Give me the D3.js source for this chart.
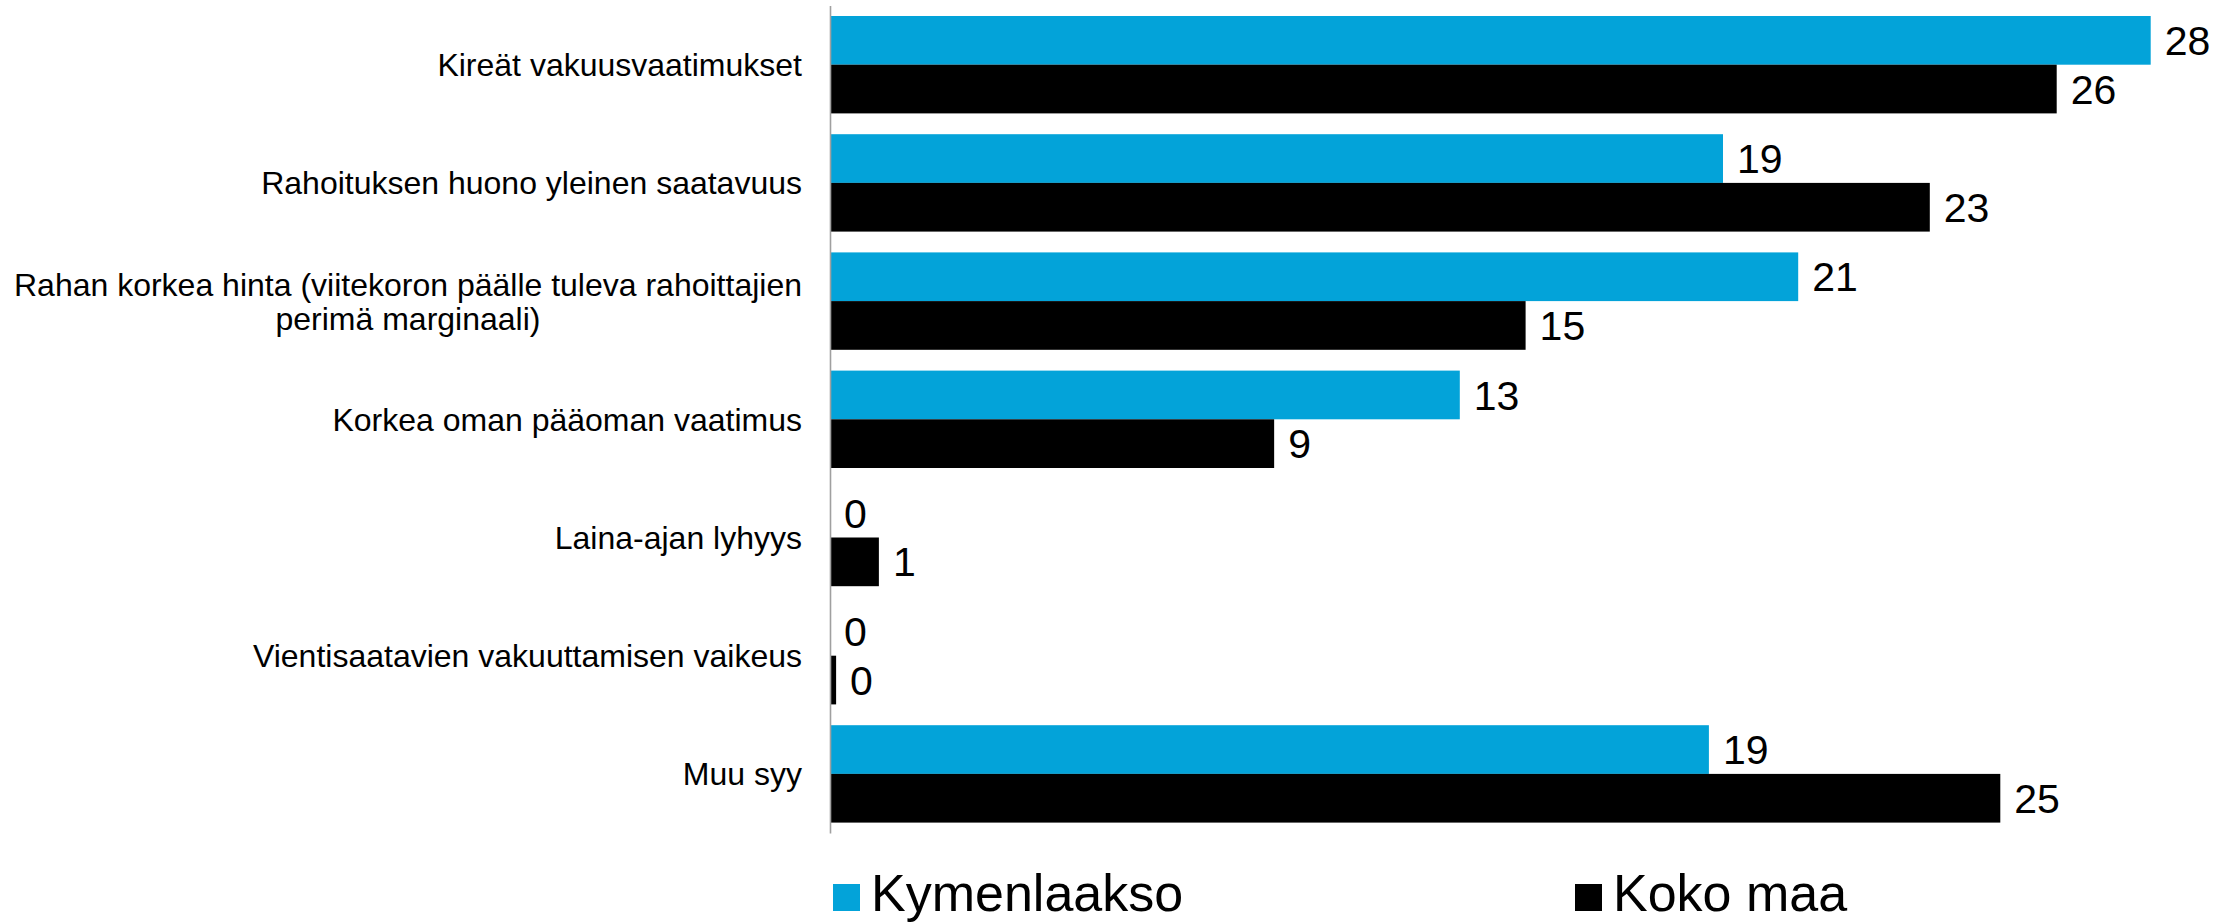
<!DOCTYPE html>
<html>
<head>
<meta charset="utf-8">
<script src="https://cdn.jsdelivr.net/npm/d3@7"></script>
<style>
body { margin:0; background:#fff; }
text { font-family:"Liberation Sans", Arial, sans-serif; fill:#000; }
</style>
</head>
<body>
<svg></svg>
<script>
var screen = {width:2239,height:923}

// data
var categories = [
    ["Kireät vakuusvaatimukset"],
    ["Rahoituksen huono yleinen saatavuus"],
    ["Rahan korkea hinta (viitekoron päälle tuleva rahoittajien","perimä marginaali)"],
    ["Korkea oman pääoman vaatimus"],
    ["Laina-ajan lyhyys"],
    ["Vientisaatavien vakuuttamisen vaikeus"],
    ["Muu syy"]
]
var seriesNames = ["Kymenlaakso","Koko maa"]
var kymenlaakso = [28.1, 19.0, 20.6, 13.4, 0, 0, 18.7]
var kokoMaa = [26.1, 23.4, 14.8, 9.45, 1.04, 0.13, 24.9]
var colors = ["#03a3d9","#000000"]

var keys = categories.map(function(c){return c.join(" ")})

var svg = d3.select("svg")
    .attr("width",screen.width)
    .attr("height",screen.height)

var xScale = d3.scaleLinear()
    .domain([0,30])
    .range([830,2240])

var yScale = d3.scaleBand()
    .domain(keys)
    .range([5.6,833])
    .paddingInner(0.176)
    .paddingOuter(0.088)

var subScale = d3.scaleBand()
    .domain(seriesNames)
    .range([0,yScale.bandwidth()])

var cScale = d3.scaleOrdinal()
    .domain(seriesNames)
    .range(colors)

var fmt = d3.format(".0f")

//rows: one per category, two bars each
var rows = keys.map(function(k,i)
{
    return {key:k, lines:categories[i], values:[
        {name:seriesNames[0], value:kymenlaakso[i]},
        {name:seriesNames[1], value:kokoMaa[i]}
    ]}
})

var groups = svg.append("g")
    .selectAll("g")
    .data(rows)
    .enter()
    .append("g")
    .attr("transform",function(d){return "translate(0,"+yScale(d.key)+")"})

groups.selectAll("rect")
    .data(function(d){return d.values})
    .enter()
    .append("rect")
    .attr("x",xScale(0))
    .attr("y",function(d){return subScale(d.name)})
    .attr("width",function(d){return xScale(d.value)-xScale(0)})
    .attr("height",subScale.bandwidth())
    .attr("fill",function(d){return cScale(d.name)})

groups.selectAll(".val")
    .data(function(d){return d.values})
    .enter()
    .append("text")
    .attr("class","val")
    .attr("x",function(d){return xScale(d.value)+14})
    .attr("y",function(d){return subScale(d.name)+subScale.bandwidth()/2+14.6})
    .style("font-size","41px")
    .text(function(d){return fmt(d.value)})

//axis line on the left
svg.append("g")
    .attr("transform","translate("+xScale(0)+",0)")
    .call(d3.axisLeft(yScale).tickSize(0).tickFormat(""))
    .call(function(g){g.select(".domain").attr("stroke","#a0a0a0").attr("stroke-width",1.6)})

//category labels, lines centred on each other, block right aligned
var labelRight = 802
var lineH = 34
groups.each(function(d)
{
    var g = d3.select(this)
    var cy = yScale.bandwidth()/2
    var t = g.append("text")
        .style("font-size","32px")
        .attr("text-anchor","middle")
    var n = d.lines.length
    d.lines.forEach(function(line,j)
    {
        t.append("tspan")
            .attr("y",cy + (j-(n-1)/2)*lineH + 11.5)
            .text(line)
    })
    var maxW = 0
    t.selectAll("tspan").each(function(){maxW = Math.max(maxW,this.getComputedTextLength())})
    t.selectAll("tspan").attr("x",labelRight-maxW/2)
})

//legend
var legendX = [833,1575]
var legend = svg.append("g")
    .selectAll("g")
    .data(seriesNames)
    .enter()
    .append("g")
    .attr("transform",function(d,i){return "translate("+legendX[i]+",884)"})

legend.append("rect")
    .attr("width",27)
    .attr("height",27)
    .attr("fill",function(d){return cScale(d)})

legend.append("text")
    .attr("x",38)
    .attr("y",27)
    .style("font-size","52px")
    .text(function(d){return d})
</script>
</body>
</html>
